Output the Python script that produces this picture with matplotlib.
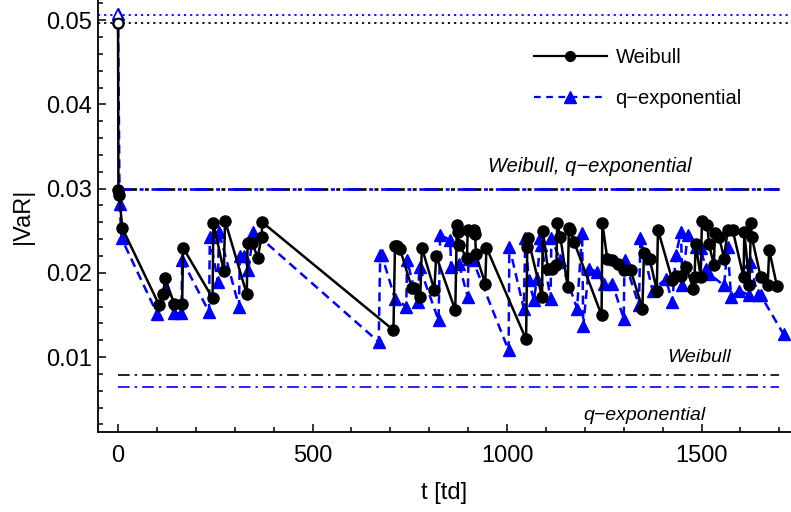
import matplotlib
matplotlib.use("Agg")
import matplotlib.pyplot as plt
from matplotlib.lines import Line2D
from matplotlib.ticker import MultipleLocator, FuncFormatter

plt.rcParams['font.family'] = ['Liberation Sans', 'DejaVu Sans']

# Weibull VaR estimates over time (trading days)
t_weibull = [0, 1, 3, 11, 106, 116, 121, 144, 165, 167, 243, 245, 272, 275, 331, 333,
             345, 359, 369, 371, 708, 712, 718, 725, 755, 760, 777, 781, 813, 818, 867,
             871, 874, 876, 897, 899, 914, 918, 920, 944, 947, 1049, 1052, 1054, 1090,
             1092, 1105, 1116, 1127, 1129, 1137, 1156, 1159, 1162, 1172, 1243, 1245,
             1258, 1271, 1285, 1300, 1318, 1348, 1352, 1367, 1385, 1388, 1425, 1434,
             1447, 1460, 1479, 1482, 1485, 1498, 1501, 1515, 1519, 1532, 1534, 1545,
             1558, 1567, 1580, 1608, 1610, 1623, 1627, 1629, 1652, 1670, 1674, 1694]
var_weibull = [0.0497, 0.0298, 0.0292, 0.0253, 0.01615, 0.01746, 0.0194, 0.01635, 0.01635,
               0.0230, 0.0170, 0.0259, 0.0202, 0.0262, 0.01746, 0.0236, 0.0236, 0.0218,
               0.0243, 0.0260, 0.0132, 0.0232, 0.0232, 0.0228, 0.01825, 0.01825, 0.01714,
               0.0230, 0.0180, 0.0220, 0.01556, 0.0257, 0.0249, 0.0233, 0.0218, 0.0251,
               0.0251, 0.0246, 0.0222, 0.0187, 0.0230, 0.0121, 0.0231, 0.0241, 0.01714,
               0.0250, 0.0205, 0.0205, 0.0209, 0.0259, 0.0243, 0.0183, 0.0253, 0.0251,
               0.0237, 0.01496, 0.0259, 0.0216, 0.0215, 0.0211, 0.0203, 0.0203, 0.01576,
               0.0224, 0.0216, 0.0179, 0.0251, 0.0191, 0.0196, 0.0196, 0.0207, 0.0181,
               0.0195, 0.0234, 0.0195, 0.0262, 0.0257, 0.0234, 0.0209, 0.0247, 0.0243,
               0.0217, 0.0251, 0.0251, 0.0195, 0.0249, 0.0185, 0.0259, 0.0243, 0.0195,
               0.0185, 0.0227, 0.0184]

# q-exponential VaR estimates over time (trading days)
t_qexp = [0, 4, 9, 101, 120, 143, 163, 165, 234, 236, 257, 259, 311, 313, 325, 335, 348,
          670, 674, 678, 712, 741, 743, 770, 775, 824, 828, 854, 856, 876, 899, 901, 912,
          1004, 1006, 1043, 1047, 1056, 1069, 1077, 1086, 1088, 1112, 1114, 1137, 1180,
          1193, 1196, 1210, 1232, 1249, 1271, 1300, 1302, 1339, 1343, 1374, 1408, 1425,
          1434, 1447, 1451, 1464, 1485, 1498, 1511, 1519, 1558, 1567, 1576, 1597, 1623,
          1625, 1644, 1652, 1711]
var_qexp = [0.0507, 0.0282, 0.0241, 0.0151, 0.0181, 0.0152, 0.0152, 0.0215, 0.01535,
            0.0242, 0.0189, 0.0249, 0.0160, 0.0220, 0.0220, 0.0203, 0.0249, 0.0118,
            0.0221, 0.0221, 0.01695, 0.0160, 0.0215, 0.01655, 0.0207, 0.01437, 0.0245,
            0.0239, 0.0207, 0.0211, 0.01714, 0.0217, 0.0215, 0.0108, 0.0231, 0.01576,
            0.0241, 0.0191, 0.01675, 0.0193, 0.0241, 0.0233, 0.01695, 0.0241, 0.0215,
            0.01576, 0.0247, 0.01366, 0.0205, 0.0201, 0.0187, 0.0187, 0.01457, 0.0215,
            0.01615, 0.0241, 0.0179, 0.0193, 0.01655, 0.0221, 0.0249, 0.0185, 0.0245,
            0.0231, 0.0229, 0.0205, 0.0199, 0.0185, 0.0231, 0.01714, 0.0179, 0.01734,
            0.0213, 0.01734, 0.01734, 0.0127]

# Reference levels
level_top_weibull = 0.0497
level_top_qexp = 0.0506
level_both = 0.0300
level_weibull = 0.0079
level_qexp = 0.0064
t_span = [0, 1700]

BLUE = (0.0, 0.0, 1.0)

fig = plt.figure(figsize=(7.91, 5.12), dpi=100)
ax = fig.add_axes([98 / 791, 80 / 512, 693 / 791, 432 / 512])

# horizontal reference levels
ax.axhline(level_top_weibull, color='black', lw=1.3, ls=(0, (1.2, 2.2)), zorder=1)
ax.axhline(level_top_qexp, color=BLUE, lw=1.3, ls=(0, (1.2, 2.2)), zorder=1)
dashdot = (0, (7, 3, 1.5, 3))
ax.plot(t_span, [level_both, level_both], color='black', lw=1.9, ls=dashdot, zorder=1)
ax.plot(t_span, [level_both, level_both], color=BLUE, lw=1.9, ls=(2, (7, 3, 1.5, 3)), zorder=1)
ax.plot(t_span, [level_weibull, level_weibull], color='black', lw=1.2, ls=dashdot, zorder=1)
ax.plot(t_span, [level_qexp, level_qexp], color=BLUE, lw=1.2, ls=dashdot, zorder=1)

# series
ax.plot(t_qexp, var_qexp, color=BLUE, lw=1.8, ls=(0, (3.6, 2.2)),
        marker='^', ms=8.5, mfc=BLUE, mec=BLUE, zorder=3)
ax.plot(t_weibull, var_weibull, color='black', lw=1.8, ls='-',
        marker='o', ms=8, mfc='black', mec='black', zorder=4)
# initial estimates drawn hollow
ax.plot(t_qexp[0], var_qexp[0], marker='^', ms=7, mfc='white', mec=BLUE, mew=1.2, zorder=5)
ax.plot(t_weibull[0], var_weibull[0], marker='o', ms=7, mfc='white', mec='black', mew=1.4, zorder=5)

# annotations
ax.text(1212, 0.0326, 'Weibull, q\u2212exponential', style='italic', fontsize=14.5,
        ha='center', va='center')
ax.text(1493, 0.0100, 'Weibull', style='italic', fontsize=14, ha='center', va='center')
ax.text(1354, 0.0031, 'q\u2212exponential', style='italic', fontsize=14, ha='center', va='center')

ax.set_xlim(-51.5, 1730)
ax.set_ylim(0.0011, 0.0524)

for s in ('top', 'right'):
    ax.spines[s].set_visible(False)
for s in ('left', 'bottom'):
    ax.spines[s].set_linewidth(1.3)

ax.xaxis.set_major_locator(MultipleLocator(500))
ax.xaxis.set_minor_locator(MultipleLocator(100))
ax.yaxis.set_major_locator(MultipleLocator(0.01))
ax.yaxis.set_minor_locator(MultipleLocator(0.002))
ax.tick_params(which='both', direction='in', top=False, right=False, width=1.1)
ax.tick_params(which='major', length=6, labelsize=17)
ax.tick_params(which='minor', length=3.5)
ax.tick_params(axis='x', which='major', pad=9)
ax.tick_params(axis='y', which='major', pad=4)
ax.yaxis.set_major_formatter(FuncFormatter(lambda v, p: f'{v:.2f}'))
ax.xaxis.set_major_formatter(FuncFormatter(lambda v, p: f'{int(round(v))}'))

ax.set_xlabel('t [td]', fontsize=17, labelpad=11)
ax.set_ylabel('|VaR|', fontsize=17, labelpad=9)

handles = [
    Line2D([], [], color='black', lw=1.6, marker='o', ms=7, mfc='black', mec='black'),
    Line2D([], [], color=BLUE, lw=1.6, ls=(0, (3, 2.5)), marker='^', ms=8, mfc=BLUE, mec=BLUE),
]
fig.legend(handles, ['Weibull', 'q\u2212exponential'], loc='center left',
           bbox_to_anchor=(534 / 791, 1 - 78 / 512), frameon=False, fontsize=14.5,
           handlelength=3.6, handletextpad=0.45, labelspacing=1.05, borderpad=0,
           borderaxespad=0)

fig.savefig('out.png', dpi=100)
